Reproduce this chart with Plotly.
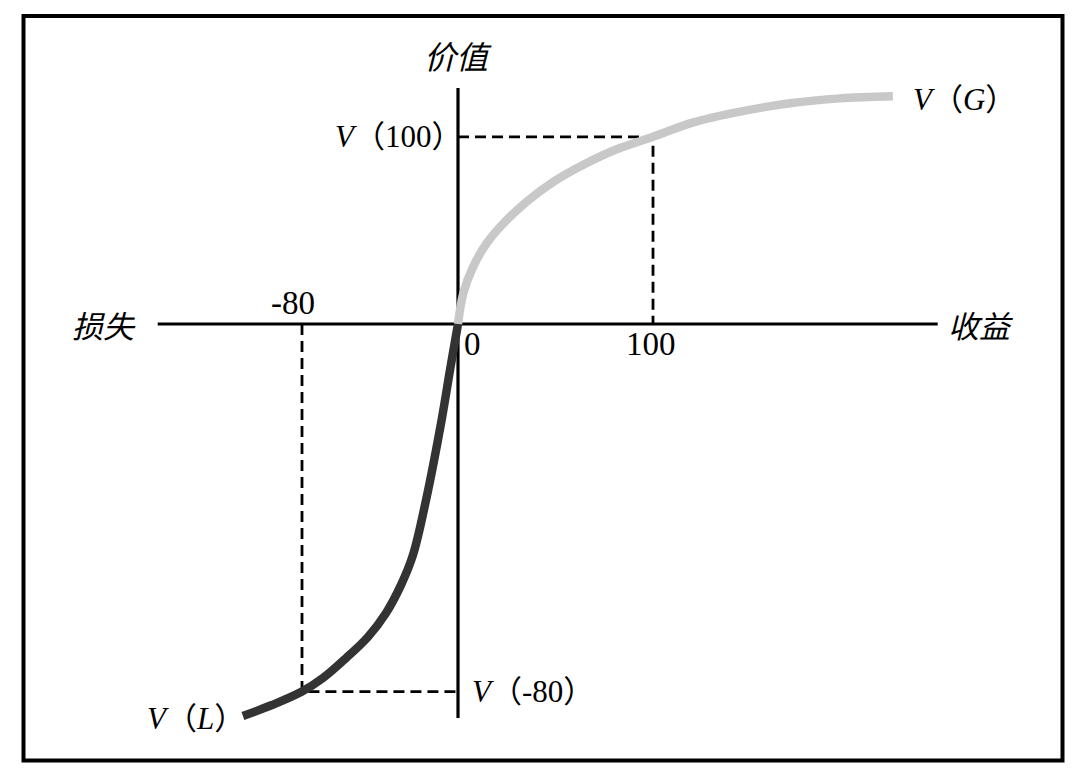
import plotly.graph_objects as go

# value function, gain side (x = gain, v = value)
gain_x = [0, 2.7, 7.8, 14.7, 23.3, 35.2, 48.9, 65.8, 81.4, 100, 120.7, 144.6, 170.3, 195.9, 223]
gain_v = [0, 15.7, 29.4, 41.4, 51.6, 62.7, 72.9, 82.4, 89.6, 96, 103.4, 108.9, 113.2, 115.7, 116.8]

# value function, loss side
loss_x = [0, -4.1, -8.4, -16.4, -23.1, -29.2, -36.9, -46.2, -57.4, -69.2, -80, -95.4, -110.3]
loss_v = [0, -23.6, -49.2, -90.3, -118.5, -133.8, -148.2, -160.5, -171.3, -181.5, -188.5, -195.4, -201.0]

gain_ref = 100
loss_ref = -80
v_gain_ref = 96
v_loss_ref = -188.5

x_axis_span = [-154, 246]
y_axis_span = [-202, 121]

# pixel scale of the drawing (px per unit), origin at (458, 324)
S = 1.95
W, H = 1076, 781
OX, OY = 458, 324

CJK = "Noto Sans CJK SC"
SERIF = "Liberation Serif, Noto Sans CJK SC, serif"

fig = go.Figure()

# axes
fig.add_trace(go.Scatter(x=x_axis_span, y=[0, 0], mode="lines",
                         line=dict(color="black", width=3.2), hoverinfo="skip"))
fig.add_trace(go.Scatter(x=[0, 0], y=y_axis_span, mode="lines",
                         line=dict(color="black", width=3.2), hoverinfo="skip"))

# dashed guide lines
dash = "11px,6px"
fig.add_trace(go.Scatter(x=[0, gain_ref, gain_ref], y=[v_gain_ref, v_gain_ref, 0], mode="lines",
                         line=dict(color="black", width=2.8, dash=dash), hoverinfo="skip"))
fig.add_trace(go.Scatter(x=[loss_ref, loss_ref, 0], y=[0, v_loss_ref, v_loss_ref], mode="lines",
                         line=dict(color="black", width=2.8, dash=dash), hoverinfo="skip"))

# curves
fig.add_trace(go.Scatter(x=loss_x, y=loss_v, mode="lines",
                         line=dict(color="#333333", width=8.5, shape="spline", smoothing=1.0)))
fig.add_trace(go.Scatter(x=gain_x, y=gain_v, mode="lines",
                         line=dict(color="#c8c8c8", width=8.5, shape="spline", smoothing=1.0)))

ann = [
    dict(x=0, y=y_axis_span[1], text="<i>价值</i>", xanchor="center", yanchor="bottom",
         yshift=8, font=dict(family=CJK, size=32)),
    dict(x=x_axis_span[0], y=0, text="<i>损失</i>", xanchor="right", yanchor="middle",
         xshift=-20, font=dict(family=CJK, size=31)),
    dict(x=x_axis_span[1], y=0, text="<i>收益</i>", xanchor="left", yanchor="middle",
         xshift=8, font=dict(family=CJK, size=31)),
    dict(x=loss_ref, y=0, text="-80", xanchor="center", yanchor="bottom",
         xshift=-9, yshift=1, font=dict(family=SERIF, size=33)),
    dict(x=0, y=0, text="0", xanchor="left", yanchor="top",
         xshift=4, yshift=0, font=dict(family=SERIF, size=33)),
    dict(x=gain_ref, y=0, text="100", xanchor="center", yanchor="top",
         xshift=-2, yshift=0, font=dict(family=SERIF, size=33)),
    dict(x=0, y=v_gain_ref, text="<i>V</i>（100）", xanchor="right", yanchor="middle",
         xshift=6, font=dict(family=SERIF, size=31)),
    dict(x=0, y=v_loss_ref, text="<i>V</i>（-80）", xanchor="left", yanchor="middle",
         xshift=12, font=dict(family=SERIF, size=31)),
    dict(x=gain_x[-1], y=gain_v[-1], text="<i>V</i>（<i>G</i>）", xanchor="left", yanchor="middle",
         xshift=18, yshift=-3, font=dict(family=SERIF, size=31)),
    dict(x=loss_x[-1], y=loss_v[-1], text="<i>V</i>（<i>L</i>）", xanchor="right", yanchor="middle",
         xshift=4, yshift=-3, font=dict(family=SERIF, size=31)),
]
for a in ann:
    a.update(showarrow=False, xref="x", yref="y")
    a["font"]["color"] = "black"

fig.update_layout(
    width=W, height=H, autosize=False,
    margin=dict(l=0, r=0, t=0, b=0),
    paper_bgcolor="white", plot_bgcolor="white",
    showlegend=False,
    annotations=ann,
    xaxis=dict(visible=False, range=[-OX / S, (W - OX) / S], fixedrange=True),
    yaxis=dict(visible=False, range=[-(H - OY) / S, OY / S], fixedrange=True),
    shapes=[dict(type="rect", xref="paper", yref="paper",
                 x0=23.5 / W, x1=1062.5 / W, y0=1 - 760.5 / H, y1=1 - 16 / H,
                 line=dict(color="black", width=4))],
)

fig.write_html("out.html", config={"displayModeBar": False},
               post_script="document.body.style.margin='0';")
